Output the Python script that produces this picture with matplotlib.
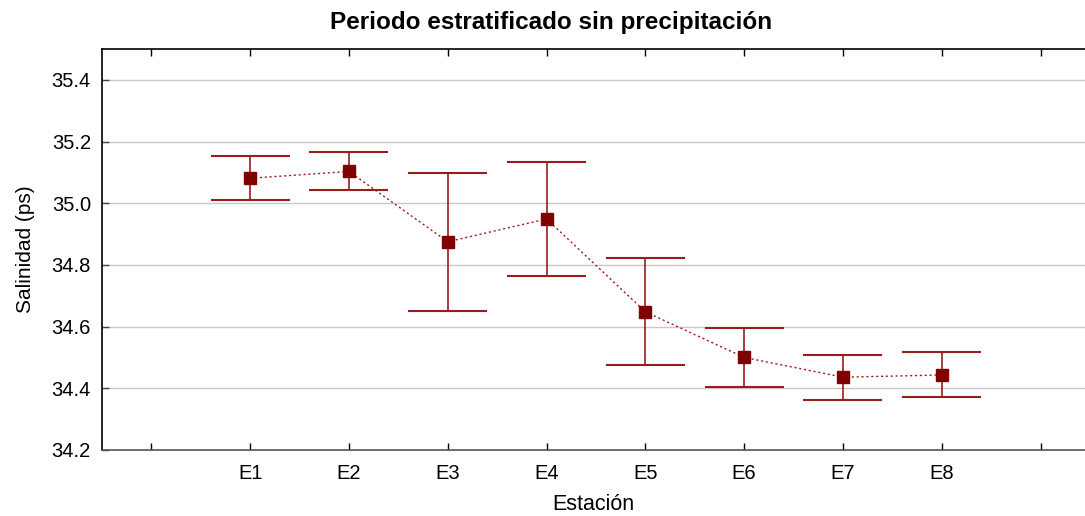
import matplotlib
matplotlib.use('Agg')
import matplotlib.pyplot as plt
import numpy as np

# Salinity per station (mean and error bar limits)
stations = ['E1', 'E2', 'E3', 'E4', 'E5', 'E6', 'E7', 'E8']
means = [35.081, 35.103, 34.875, 34.949, 34.648, 34.500, 34.436, 34.443]
upper = [35.152, 35.165, 35.099, 35.134, 34.824, 34.595, 34.509, 34.516]
lower = [35.011, 35.042, 34.651, 34.764, 34.475, 34.405, 34.362, 34.371]
y_ticks = [34.2, 34.4, 34.6, 34.8, 35.0, 35.2, 35.4]

plt.rcParams['font.family'] = ['Liberation Sans', 'DejaVu Sans']

fig = plt.figure(figsize=(10.85, 5.16), dpi=100)
ax = fig.add_axes([0.094, 0.128, 0.906, 0.777])

x = np.arange(1, len(stations) + 1)
means_arr = np.array(means)
yerr = [means_arr - np.array(lower), np.array(upper) - means_arr]

ax.errorbar(x, means, yerr=yerr, fmt='none', ecolor='#9b1c1c',
            elinewidth=1.2, capsize=0, zorder=3)
# wide caps drawn as short horizontal lines
ax.hlines(upper, x - 0.4, x + 0.4, color='#9b1c1c', linewidth=1.5, zorder=3)
ax.hlines(lower, x - 0.4, x + 0.4, color='#9b1c1c', linewidth=1.5, zorder=3)
ax.plot(x, means, linestyle=(0, (1.5, 2)), color='#9b1c1c', linewidth=1.0, zorder=4)
ax.plot(x, means, linestyle='none', marker='s', markersize=9,
        color='#800000', zorder=5)

ax.set_xlim(-0.5, 9.45)
ax.set_ylim(34.2, 35.5)
ax.set_xticks(range(0, 10))
ax.set_xticklabels([''] + stations + [''])
ax.set_yticks(y_ticks)
ax.set_yticklabels([f'{v:.1f}' for v in y_ticks])

ax.yaxis.grid(True, color='#c8c8c8', linewidth=1.0)
ax.set_axisbelow(True)

ax.tick_params(axis='x', direction='in', top=True, bottom=True, length=5,
               width=1, labelsize=14.5, pad=10)
ax.tick_params(axis='y', direction='in', length=5, width=1, color='#444444',
               labelsize=14.5, pad=8)

ax.spines['right'].set_visible(False)
ax.spines['left'].set_color('black')
ax.spines['top'].set_color('black')
ax.spines['bottom'].set_color('#555555')
for s in ['left', 'top', 'bottom']:
    ax.spines[s].set_linewidth(1.2)

ax.set_xlabel('Estación', fontsize=15.5, labelpad=8)
ax.set_ylabel('Salinidad (ps)', fontsize=15, labelpad=12)
fig.suptitle('Periodo estratificado sin precipitación', fontsize=17.5,
             fontweight='bold', x=0.508, y=0.957, va='center')

fig.savefig('out.png', dpi=100)
